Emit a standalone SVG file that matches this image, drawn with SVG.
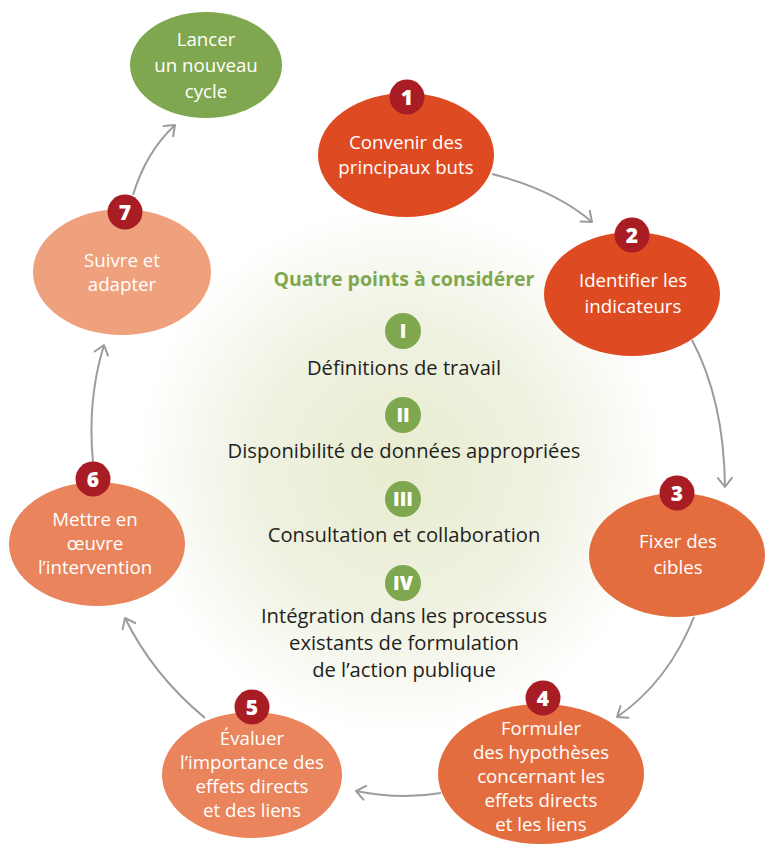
<svg xmlns="http://www.w3.org/2000/svg" width="765" height="844" viewBox="0 0 765 844">
<defs>
<radialGradient id="glow" cx="400" cy="470" r="265" gradientUnits="userSpaceOnUse">
<stop offset="0" stop-color="#E8ECCF"/>
<stop offset="0.55" stop-color="#EFF2E1"/>
<stop offset="1" stop-color="#FFFFFF"/>
</radialGradient>
<marker id="arr" viewBox="-12 -10 14 20" refX="0" refY="0" markerWidth="14" markerHeight="20" markerUnits="userSpaceOnUse" orient="auto">
<path d="M-9,-7 L0,0 L-9,7" fill="none" stroke="#9B9C9E" stroke-width="2" stroke-linecap="round" stroke-linejoin="round"/>
</marker>
<style>
.nt{font-family:"Open Sans",Lato,"Liberation Sans",sans-serif;font-size:18.7px;fill:#FFFFFF;text-anchor:middle}
.bd{fill:#A81C24}
.bn{font-family:"Open Sans",Lato,"Liberation Sans",sans-serif;font-size:21px;font-weight:800;fill:#FFFFFF;text-anchor:middle}
.gb{fill:#7FA74F}
.gn{font-family:"Open Sans",Lato,"Liberation Sans",sans-serif;font-size:19px;font-weight:800;fill:#FFFFFF;text-anchor:middle}
.ct{font-family:"Open Sans",Lato,"Liberation Sans",sans-serif;font-size:20.2px;fill:#231F20;text-anchor:middle}
.ttl{font-family:"Open Sans",Lato,"Liberation Sans",sans-serif;font-size:19.5px;font-weight:bold;fill:#7FA74F;text-anchor:middle}
.cn{fill:none;stroke:#9B9C9E;stroke-width:2;marker-end:url(#arr)}
</style>
</defs>
<rect width="765" height="844" fill="#FFFFFF"/>
<circle cx="400" cy="470" r="265" fill="url(#glow)"/>

<g id="connectors">
<path class="cn" d="M133,195 Q146,152 175,125"/>
<path class="cn" d="M492,174 Q555,190 592,222"/>
<path class="cn" d="M692,340 Q724,400 725,487"/>
<path class="cn" d="M694,617 Q668,682 617,717"/>
<path class="cn" d="M441,793 Q400,800 356,791"/>
<path class="cn" d="M205,718 Q153,675 125,618"/>
<path class="cn" d="M93,462 Q87,400 104,345"/>
</g>

<g id="center">
<text class="ttl" x="404" y="286">Quatre points à considérer</text>
<circle class="gb" cx="403" cy="331" r="18"/>
<text class="gn" x="403" y="338">I</text>
<text class="ct" x="404" y="375">Définitions de travail</text>
<circle class="gb" cx="403" cy="415" r="18"/>
<text class="gn" x="403" y="422">II</text>
<text class="ct" x="404" y="458">Disponibilité de données appropriées</text>
<circle class="gb" cx="403" cy="499" r="18"/>
<text class="gn" x="403" y="506">III</text>
<text class="ct" x="404" y="542">Consultation et collaboration</text>
<circle class="gb" cx="403" cy="583" r="18"/>
<text class="gn" x="403" y="590">IV</text>
<text class="ct" x="404" y="623">Intégration dans les processus</text>
<text class="ct" x="404" y="650">existants de formulation</text>
<text class="ct" x="404" y="677">de l’action publique</text>
</g>

<g id="node-lancer">
<ellipse cx="206" cy="65" rx="76" ry="53" fill="#7FA74F"/>
<text class="nt" x="206" y="46">Lancer</text>
<text class="nt" x="206" y="72">un nouveau</text>
<text class="nt" x="206" y="98">cycle</text>
</g>

<g id="node-1">
<ellipse cx="406" cy="155" rx="88" ry="62" fill="#DE4A21"/>
<text class="nt" x="406" y="149">Convenir des</text>
<text class="nt" x="406" y="174">principaux buts</text>
<circle class="bd" cx="407" cy="97" r="17.5"/>
<text class="bn" x="407" y="105">1</text>
</g>

<g id="node-2">
<ellipse cx="632" cy="294" rx="88" ry="62" fill="#DE4A21"/>
<text class="nt" x="633" y="287">Identifier les</text>
<text class="nt" x="633" y="313">indicateurs</text>
<circle class="bd" cx="632" cy="235" r="17.5"/>
<text class="bn" x="632" y="243">2</text>
</g>

<g id="node-3">
<ellipse cx="677" cy="555" rx="88" ry="62" fill="#E46D3F"/>
<text class="nt" x="678" y="548">Fixer des</text>
<text class="nt" x="678" y="574">cibles</text>
<circle class="bd" cx="677" cy="493" r="17.5"/>
<text class="bn" x="677" y="501">3</text>
</g>

<g id="node-4">
<ellipse cx="541" cy="774" rx="103" ry="70" fill="#E46D3F"/>
<text class="nt" x="541" y="735">Formuler</text>
<text class="nt" x="541" y="759">des hypothèses</text>
<text class="nt" x="541" y="783">concernant les</text>
<text class="nt" x="541" y="807">effets directs</text>
<text class="nt" x="541" y="831">et les liens</text>
<circle class="bd" cx="543" cy="698" r="17.5"/>
<text class="bn" x="543" y="706">4</text>
</g>

<g id="node-5">
<ellipse cx="252" cy="775" rx="90" ry="63" fill="#E9845C"/>
<text class="nt" x="252" y="745">Évaluer</text>
<text class="nt" x="252" y="769">l’importance des</text>
<text class="nt" x="252" y="793">effets directs</text>
<text class="nt" x="252" y="817">et des liens</text>
<circle class="bd" cx="252" cy="707" r="17.5"/>
<text class="bn" x="252" y="715">5</text>
</g>

<g id="node-6">
<ellipse cx="97" cy="544" rx="88" ry="62" fill="#E9845C"/>
<text class="nt" x="95" y="526">Mettre en</text>
<text class="nt" x="95" y="550">œuvre</text>
<text class="nt" x="95" y="574">l’intervention</text>
<circle class="bd" cx="93" cy="479" r="17.5"/>
<text class="bn" x="93" y="487">6</text>
</g>

<g id="node-7">
<ellipse cx="122" cy="272" rx="89" ry="63" fill="#EFA07C"/>
<text class="nt" x="122" y="267">Suivre et</text>
<text class="nt" x="122" y="291">adapter</text>
<circle class="bd" cx="125" cy="212" r="17.5"/>
<text class="bn" x="125" y="220">7</text>
</g>
</svg>
